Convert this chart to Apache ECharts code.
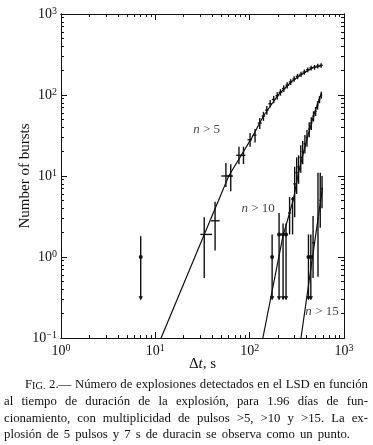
<!DOCTYPE html>
<html>
<head>
<meta charset="utf-8">
<script src="https://cdn.jsdelivr.net/npm/echarts@6/dist/echarts.min.js"></script>
<style>
  html, body { margin: 0; padding: 0; background: #fff; }
  #chart { width: 373px; height: 445px; }
</style>
</head>
<body>
<div id="chart"></div>
<script>
  var serif = '"Liberation Serif", "Times New Roman", serif';
  var ink = '#111';

  // axis ticks
  var xMajor = [1, 10, 100, 1000];
  var xMinor = [2, 3, 4, 5, 6, 7, 8, 9, 20, 30, 40, 50, 60, 70, 80, 90, 200, 300, 400, 500, 600, 700, 800, 900];
  var yMajor = [0.1, 1, 10, 100, 1000];
  var yMinor = [0.2, 0.3, 0.4, 0.5, 0.6, 0.7, 0.8, 0.9, 2, 3, 4, 5, 6, 7, 8, 9,
    20, 30, 40, 50, 60, 70, 80, 90, 200, 300, 400, 500, 600, 700, 800, 900];

  // single burst, n > 5, 7 s
  var singleT = [7];
  var singleN = [1];
  var singleNLo = [0.3];
  var singleNHi = [1.8];

  // n > 5 measurements
  var n5T = [33, 43, 56, 63, 77, 86, 101, 114, 128, 140, 152, 165, 180, 196, 212, 230, 250, 272, 296, 322, 350, 380, 412, 448, 487, 528, 572];
  var n5N = [1.9, 2.8, 10, 10, 18, 18, 28, 32, 45, 55, 65, 78, 88, 98, 108, 120, 132, 145, 158, 170, 180, 192, 205, 215, 220, 228, 232];
  var n5TLo = [30, 39, 50, 57, 72, 80, 95, 108, 122, 134, 146, 158, 172, 188, 203, 220, 240, 260, 284, 308, 336, 364, 396, 430, 468, 508, 550];
  var n5THi = [40, 48, 66, 66, 82, 90, 106, 118, 134, 146, 158, 172, 188, 205, 222, 240, 262, 284, 308, 336, 365, 396, 430, 466, 506, 548, 594];
  var n5NLo = [0.55, 1.2, 7.3, 6.5, 14, 14, 23, 26, 38, 48, 57, 70, 79, 88, 98, 109, 120, 133, 146, 157, 167, 178, 191, 200, 205, 213, 217];
  var n5NHi = [3.1, 4.8, 14.5, 14, 23, 23, 34, 38, 52, 62, 73, 87, 97, 108, 118, 131, 144, 157, 170, 183, 193, 206, 219, 230, 235, 243, 247];

  // n > 10 measurements
  var n10T = [173, 205, 226, 243, 265, 285, 300, 315, 330, 348, 365, 385, 405, 428, 450, 475, 500, 525, 550, 575];
  var n10N = [1, 1.9, 1.9, 1.9, 3.5, 5.2, 8, 11, 13, 17, 20, 25, 30, 38, 45, 55, 63, 75, 88, 100];
  var n10TLo = [170, 198, 218, 236, 255, 275, 290, 305, 320, 338, 355, 374, 394, 416, 438, 462, 487, 512, 537, 562];
  var n10THi = [176, 212, 234, 250, 275, 295, 310, 325, 340, 358, 375, 396, 416, 440, 462, 488, 513, 538, 563, 588];
  var n10NLo = [0.3, 0.3, 0.3, 0.3, 1.9, 1.9, 3.1, 6, 8, 11, 14, 19, 23, 30, 37, 47, 55, 66, 79, 90];
  var n10NHi = [1.9, 3.5, 2.6, 2.6, 5.5, 5.5, 13, 17, 18, 24, 27, 32, 37, 46, 53, 63, 71, 84, 97, 110];
  var n10Limit = [1, 1, 1, 1, 0, 0, 0, 0, 0, 0, 0, 0, 0, 0, 0, 0, 0, 0, 0, 0];

  // n > 15 measurements
  var n15T = [420, 445, 470, 530, 560, 585];
  var n15N = [1, 1, 1.5, 3, 5, 7];
  var n15TLo = [412, 436, 460, 520, 548, 572];
  var n15THi = [428, 454, 480, 540, 572, 598];
  var n15NLo = [0.3, 0.3, 0.55, 0.57, 2.3, 4];
  var n15NHi = [1.9, 1.9, 3.2, 11, 11, 10];
  var n15Limit = [1, 1, 0, 0, 0, 0];

  // fitted curves
  var fit5T = [11.5, 33, 60, 106, 140, 200, 280, 370, 470, 590];
  var fit5N = [0.1, 1.9, 10, 30, 55, 100, 148, 185, 218, 232];
  var fit10T = [138, 225, 289, 330, 370, 410, 470, 530, 575];
  var fit10N = [0.1, 1.8, 5, 11, 19, 30, 53, 80, 105];
  var fit15T = [350, 458, 590];
  var fit15N = [0.1, 0.9, 7];

  // curve labels
  var tagText = ['5', '10', '15'];
  var tagT = [35, 123, 585];
  var tagN = [37, 4.0, 0.21];

  var captionLines = [
    'FIG. 2.— Número de explosiones detectados en el LSD en función',
    'al tiempo de duración de la explosión, para 1.96 días de fun-',
    'cionamiento, con multiplicidad de pulsos >5, >10 y >15. La ex-',
    'plosión de 5 pulsos y 7 s de duracin se observa como un punto.'
  ];

  function zip(cols) {
    var out = [];
    for (var i = 0; i < cols[0].length; i++) {
      out.push(cols.map(function (c) { return c[i]; }));
    }
    return out;
  }
  function zeros(n) { var a = []; for (var i = 0; i < n; i++) a.push(0); return a; }

  function supLabel(v) {
    var e = Math.round(Math.log10(v));
    return '{b|10}{s|' + (e < 0 ? '\u2212' + (-e) : e) + '}';
  }
  var labelRich = {
    b: { fontFamily: serif, fontSize: 14, color: ink },
    s: { fontFamily: serif, fontSize: 10, color: ink, verticalAlign: 'top', padding: [0, 0, 6, 0] }
  };

  function xAxisOf(pos, ticks, len, main) {
    return {
      type: 'log', logBase: 10, min: 1, max: 1000, position: pos, gridIndex: 0,
      name: main ? '{n|\u0394}{i|t}{n|, s}' : '',
      nameLocation: 'middle', nameGap: 19, nameMoveOverlap: false,
      nameTextStyle: { rich: { n: { fontFamily: serif, fontSize: 15, color: ink }, i: { fontFamily: serif, fontSize: 15, fontStyle: 'italic', color: ink } } },
      axisLine: { show: true, lineStyle: { color: ink, width: 1 } },
      axisTick: { show: true, inside: true, length: len, customValues: ticks, lineStyle: { color: ink, width: 1 } },
      axisLabel: { show: !!main, customValues: xMajor, margin: 5, formatter: supLabel, rich: labelRich },
      splitLine: { show: false }
    };
  }
  function yAxisOf(pos, ticks, len, main) {
    return {
      type: 'log', logBase: 10, min: 0.1, max: 1000, position: pos, gridIndex: 0,
      name: main ? 'Number of bursts' : '',
      nameLocation: 'middle', nameGap: 28, nameRotate: 90, nameMoveOverlap: false,
      nameTextStyle: { fontFamily: serif, fontSize: 15, color: ink },
      axisLine: { show: true, lineStyle: { color: ink, width: 1 } },
      axisTick: { show: true, inside: true, length: len, customValues: ticks, lineStyle: { color: ink, width: 1 } },
      axisLabel: { show: !!main, customValues: yMajor, margin: 4, formatter: supLabel, rich: labelRich },
      splitLine: { show: false }
    };
  }

  function renderErr(params, api) {
    var t = api.value(0), n = api.value(1);
    var c = api.coord([t, n]);
    var v1 = api.coord([t, api.value(4)]);
    var v2 = api.coord([t, api.value(5)]);
    var h1 = api.coord([api.value(2), n]);
    var h2 = api.coord([api.value(3), n]);
    var st = { stroke: ink, lineWidth: 1.4 };
    var kids = [
      { type: 'line', shape: { x1: v1[0], y1: v1[1], x2: v2[0], y2: v2[1] }, style: st },
      { type: 'line', shape: { x1: h1[0], y1: h1[1], x2: h2[0], y2: h2[1] }, style: st }
    ];
    if (api.value(6)) {
      kids.push({ type: 'circle', shape: { cx: c[0], cy: c[1], r: 2 }, style: { fill: ink } });
      kids.push({ type: 'polygon', shape: { points: [[v1[0] - 2.2, v1[1] - 3], [v1[0] + 2.2, v1[1] - 3], [v1[0], v1[1] + 1]] }, style: { fill: ink } });
    }
    return { type: 'group', children: kids };
  }

  function errSeries(cols) {
    return {
      type: 'custom', xAxisIndex: 0, yAxisIndex: 0, renderItem: renderErr, clip: true,
      encode: { x: 0, y: 1 }, data: zip(cols), z: 3, silent: true
    };
  }
  function fitSeries(t, n) {
    return {
      type: 'line', xAxisIndex: 0, yAxisIndex: 0, data: zip([t, n]), showSymbol: false, clip: true,
      lineStyle: { color: ink, width: 1.2 }, z: 2, silent: true
    };
  }

  // caption, justified like the printed figure
  var ctx = document.createElement('canvas').getContext('2d');
  function measure(text, size) {
    ctx.font = size + 'px "Liberation Serif"';
    return ctx.measureText(text).width;
  }
  var capLeft = [25, 4, 4, 4];
  var capRight = [368, 368, 368, 350];
  var capY = [391, 408, 425, 441];
  // pick the size at which the tightest line still fits with normal spaces
  var capSize = 14;
  captionLines.forEach(function (line, li) {
    var s = 14 * (capRight[li] - capLeft[li]) / measure(line, 14);
    if (s < capSize) capSize = s;
  });
  var graphics = [];
  captionLines.forEach(function (line, li) {
    var words = line.split(' ').map(function (w) {
      var runs = w === 'FIG.' ? [['F', capSize], ['IG.', capSize * 0.8]] : [[w, capSize]];
      var width = 0;
      runs.forEach(function (r) { r.push(width); width += measure(r[0], r[1]); });
      return { runs: runs, width: width };
    });
    var total = words.reduce(function (s, w) { return s + w.width; }, 0);
    var gap = (capRight[li] - capLeft[li] - total) / (words.length - 1);
    var x = capLeft[li];
    words.forEach(function (w) {
      w.runs.forEach(function (r) {
        graphics.push({
          type: 'text', x: x + r[2], y: capY[li], silent: true,
          style: { text: r[0], fontFamily: 'Liberation Serif', fontSize: r[1], fill: ink, align: 'left', verticalAlign: 'bottom' }
        });
      });
      x += w.width + gap;
    });
  });

  var chart = echarts.init(document.getElementById('chart'), null, { renderer: 'canvas' });
  chart.setOption({
    animation: false,
    backgroundColor: '#fff',
    grid: { left: 61, right: 29, top: 14, bottom: 107, containLabel: false, outerBoundsMode: 'none' },
    xAxis: [
      xAxisOf('bottom', xMajor, 6, true),
      xAxisOf('bottom', xMinor, 3, false),
      xAxisOf('top', xMajor, 6, false),
      xAxisOf('top', xMinor, 3, false)
    ],
    yAxis: [
      yAxisOf('left', yMajor, 6, true),
      yAxisOf('left', yMinor, 3, false),
      yAxisOf('right', yMajor, 6, false),
      yAxisOf('right', yMinor, 3, false)
    ],
    series: [
      fitSeries(fit5T, fit5N),
      fitSeries(fit10T, fit10N),
      fitSeries(fit15T, fit15N),
      errSeries([singleT, singleN, singleT, singleT, singleNLo, singleNHi, [1]]),
      errSeries([n5T, n5N, n5TLo, n5THi, n5NLo, n5NHi, zeros(n5T.length)]),
      errSeries([n10T, n10N, n10TLo, n10THi, n10NLo, n10NHi, n10Limit]),
      errSeries([n15T, n15N, n15TLo, n15THi, n15NLo, n15NHi, n15Limit]),
      {
        type: 'scatter', xAxisIndex: 0, yAxisIndex: 0, symbolSize: 0,
        itemStyle: { color: 'rgba(0,0,0,0)' },
        data: zip([tagT, tagN, tagText]), z: 4, silent: true,
        label: {
          show: true, position: 'inside', color: ink,
          formatter: function (p) { return '{i|n} {n|> ' + p.value[2] + '}'; },
          rich: {
            i: { fontFamily: serif, fontSize: 13, fontStyle: 'italic', color: ink },
            n: { fontFamily: serif, fontSize: 13, color: ink }
          }
        }
      }
    ],
    graphic: graphics
  });
</script>
</body>
</html>
